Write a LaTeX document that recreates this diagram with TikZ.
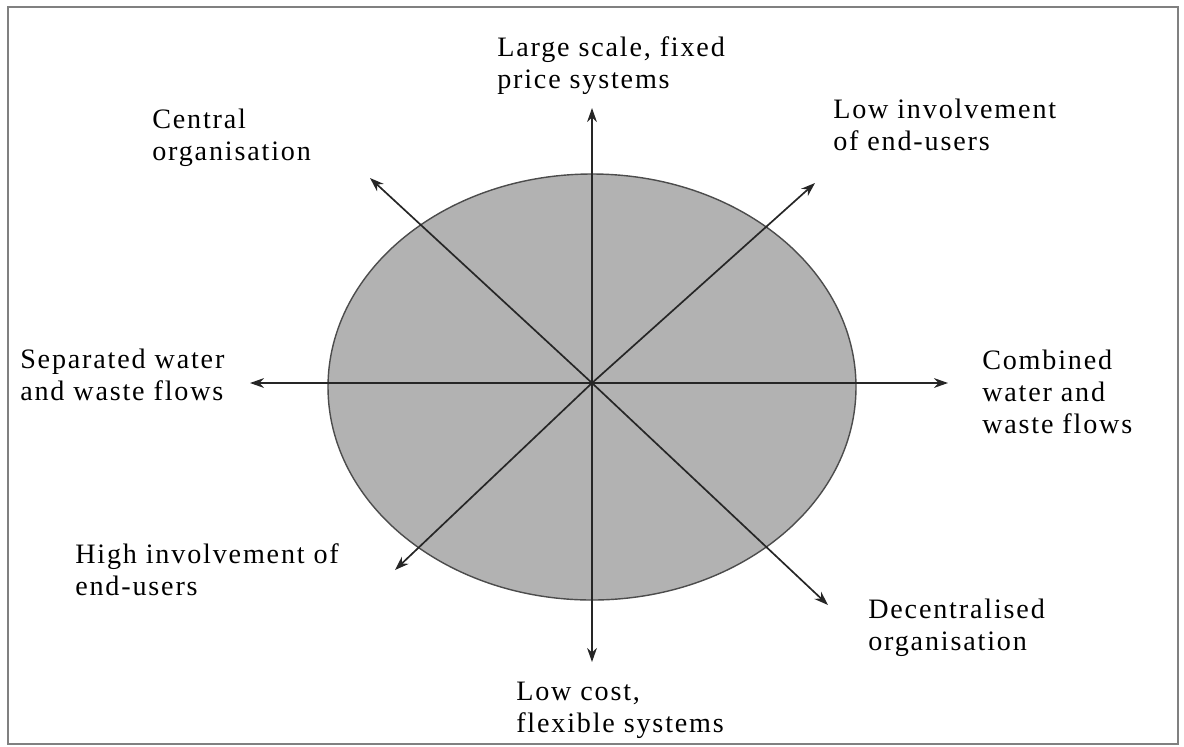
\documentclass[tikz,border=0pt]{standalone}
\usepackage{fontspec}
\setmainfont{Liberation Serif}[LetterSpace=6.5]
\usetikzlibrary{arrows.meta}

\begin{document}
\begin{tikzpicture}[x=0.025cm,y=-0.025cm,
      lbl/.style={anchor=base west,inner sep=0pt,align=left,
        font=\fontsize{20}{22.5}\selectfont},
      axis/.style={draw=black!85,line width=1.2pt,-{Stealth[length=10pt,width=7pt]}}]
      \useasboundingbox (0,0) rectangle (1184,746);
      \draw[gray,line width=1.5pt] (8,7) rectangle (1178,744);
      \fill[fill=black!30,draw=black!70,line width=1pt] (592,387) ellipse [x radius=264,y radius=213];
      \coordinate (c) at (592,383);
      \coordinate (n) at (592,108);
      \coordinate (s) at (592,662);
      \coordinate (w) at (250,383);
      \coordinate (e) at (948,383);
      \coordinate (nw) at (370,178);
      \coordinate (ne) at (815,183);
      \coordinate (sw) at (395,570);
      \coordinate (se) at (828,605);
      \foreach \t in {n,s,w,e,nw,ne,sw,se}
        \draw[axis] (c) -- (\t);
      % labels, anchored at the baseline of their last line
      \node[lbl] (l0) at (497,88) {Large scale, fixed\\price systems};
      \node[lbl] (l1) at (152,160) {Central\\organisation};
      \node[lbl] (l2) at (833,150) {Low involvement\\of end-users};
      \node[lbl] (l3) at (20,400) {Separated water\\and waste flows};
      \node[lbl] (l4) at (982,433) {Combined\\water and\\waste flows};
      \node[lbl] (l5) at (75,595) {High involvement of\\end-users};
      \node[lbl] (l6) at (868,650) {Decentralised\\organisation};
      \node[lbl] (l7) at (516,732) {Low cost,\\flexible systems};
    \end{tikzpicture}
\end{document}
